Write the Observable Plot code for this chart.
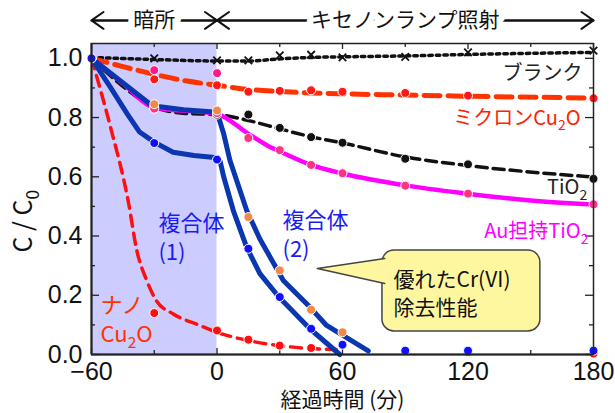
<!DOCTYPE html>
<html><head><meta charset="utf-8">
<script src="https://cdn.jsdelivr.net/npm/d3@7"></script>
<script src="https://cdn.jsdelivr.net/npm/@observablehq/plot@0.6"></script>
<style>body{margin:0;background:#fff;}</style>
</head><body><div id="chart"></div>
<script>
// ---- ticks ----
const xTicks = [-60, 0, 60, 120, 180];
const xMinorTicks = [-30, 30, 90, 150];
const yTicks = [0, 0.2, 0.4, 0.6, 0.8, 1.0];
const yMinorTicks = [0.1, 0.3, 0.5, 0.7, 0.9];

// ---- periods (top arrows / dark shading) ----
const periods = [
  {label: "暗所", start: -60, end: 0, mid: -30},
  {label: "キセノンランプ照射", start: 0, end: 180, mid: 90}
];
const periodRowY = 1.128;

// ---- measured points [time (min), C/C0] ----
const blankPts   = [[-30,1.0],[0,0.993],[15,0.993],[30,1.01],[45,1.012],[60,1.003],[90,1.005],[120,1.02],[180,1.026]];
const micronPts  = [[-60,1.0],[-30,0.929],[0,0.909],[15,0.887],[30,0.89],[45,0.892],[60,0.887],[90,0.883],[120,0.874],[180,0.865]];
const extraPinkPts = [[-30,0.96],[0,0.95]];
const tio2Pts    = [[-60,1.0],[-30,0.835],[0,0.81],[15,0.81],[30,0.765],[45,0.734],[60,0.715],[90,0.661],[120,0.642],[180,0.593]];
const auPts      = [[-60,1.0],[-30,0.83],[0,0.815],[15,0.731],[30,0.69],[45,0.64],[60,0.612],[90,0.57],[120,0.543],[180,0.507]];
const comp2Pts   = [[-60,1.0],[-30,0.845],[0,0.824],[15,0.464],[30,0.284],[45,0.151],[60,0.075]];
const nanoPts    = [[-60,1.0],[-30,0.14],[0,0.081],[15,0.05],[30,0.03],[45,0.022],[120,0.008],[180,0.003]];
const comp1Pts   = [[-60,1.0],[-30,0.714],[0,0.658],[15,0.357],[30,0.194],[45,0.087],[60,0.033],[90,0.013],[120,0.013],[180,0.013]];

// ---- trend curves [time (min), C/C0] ----
const blankFit  = [[-60,1.003],[-30,0.996],[0,0.991],[15,0.991],[30,0.998],[45,1.003],[60,1.005],[90,1.008],[120,1.013],[180,1.02]];
const micronFit = [[-60,1.0],[-45,0.972],[-30,0.946],[-15,0.924],[0,0.909],[15,0.895],[30,0.888],[60,0.88],[90,0.876],[120,0.872],[180,0.866]];
const tio2Fit   = [[-60,1.0],[-50,0.935],[-40,0.878],[-30,0.835],[-15,0.814],[0,0.81],[15,0.79],[30,0.762],[45,0.735],[60,0.714],[90,0.667],[120,0.638],[180,0.599]];
const auFit     = [[-60,1.0],[-45,0.915],[-30,0.834],[0,0.812],[15,0.745],[24,0.706],[30,0.686],[45,0.64],[60,0.611],[90,0.571],[120,0.543],[150,0.52],[180,0.506]];
const comp2Fit  = [[-60,1.0],[-31,0.84],[-16,0.826],[0,0.818],[3.2,0.745],[6.2,0.655],[14.2,0.486],[20.5,0.39],[31.7,0.25],[44.4,0.16],[52.4,0.098],[72.3,0.012]];
const comp1Fit  = [[-60,1.0],[-51,0.903],[-43,0.813],[-37,0.751],[-30,0.717],[-21,0.683],[-11,0.672],[0,0.664],[1.5,0.652],[3.2,0.6],[7.8,0.486],[14.2,0.362],[20.5,0.273],[29.6,0.194],[44.4,0.087],[58.7,0.0]];
const nanoFit   = [[-60,1.0],[-51,0.77],[-42.5,0.52],[-38.3,0.35],[-33.6,0.25],[-28.8,0.18],[-20.9,0.137],[-8.1,0.098],[0,0.075],[15,0.047],[30,0.03],[45,0.02],[57,0.017]];

// ---- labels ----
const rightLabels = [
  {text: "ブランク",        t: 174.7, c: 0.949, color: "#222222"},
  {text: "ミクロンCu_2O",   t: 173.8, c: 0.797, color: "#ff2200"},
  {text: "TiO_2",           t: 177.0, c: 0.562, color: "#222222"},
  {text: "Au担持TiO_2",     t: 177.6, c: 0.415, color: "#ff00ff"}
];
const leftLabels = [
  {text: "複合体\n(1)",     t: -28.0, c: 0.398, color: "#1c1cf0"},
  {text: "複合体\n(2)",     t: 31.3,  c: 0.410, color: "#1c1cf0"},
  {text: "ナノ\nCu_2O",     t: -55.7, c: 0.123, color: "#ff3300"}
];
const yAxisTitle = {text: "C\u00a0/\u00a0C_0", t: -60, c: 0.45};
const callout = {x1: 79.1, x2: 154.6, y1: 0.078, y2: 0.351, text: "優れたCr(VI)\n除去性能", tx: 84.4, ty: 0.21};
const calloutPointer = [[80.2,0.324],[48.0,0.290],[80.2,0.240]];

const rows = a => a.map(([t, c]) => ({t, c}));
const FONT = "'Liberation Sans', Arial, 'Noto Sans CJK JP', sans-serif";
const JFONT = "'Noto Sans CJK JP', 'Liberation Sans', sans-serif";
const plotW = 615 - 91 - 22, plotH = 413 - 43 - 59;

const dotStyle = (fill) => ({x: "t", y: "c", r: 4.5, fill, stroke: "white", strokeWidth: 1});

const chart = Plot.plot({
  width: 615, height: 413,
  marginLeft: 91, marginRight: 22, marginTop: 43, marginBottom: 59,
  x: {domain: [-60, 180]},
  y: {domain: [0, 1.05]},
  style: {fontFamily: FONT, background: "white", overflow: "visible"},
  marks: [
    Plot.rect([periods[0]], {x1: "start", x2: "end", fill: "#ccccff"}),
    // inward ticks
    Plot.tickY(yTicks, {y: d => d, insetRight: plotW - 8, stroke: "#222", strokeWidth: 1.3}),
    Plot.tickY(yMinorTicks, {y: d => d, insetRight: plotW - 4, stroke: "#222", strokeWidth: 1.3}),
    Plot.tickY(yTicks, {y: d => d, insetLeft: plotW - 8, stroke: "#222", strokeWidth: 1.3}),
    Plot.tickY(yMinorTicks, {y: d => d, insetLeft: plotW - 4, stroke: "#222", strokeWidth: 1.3}),
    Plot.tickX(xTicks, {x: d => d, insetTop: plotH - 6, stroke: "#222", strokeWidth: 1.3}),
    Plot.tickX(xMinorTicks, {x: d => d, insetTop: plotH - 4, stroke: "#222", strokeWidth: 1.3}),
    Plot.tickX(xTicks, {x: d => d, insetBottom: plotH - 6, stroke: "#222", strokeWidth: 1.3}),
    Plot.tickX(xMinorTicks, {x: d => d, insetBottom: plotH - 4, stroke: "#222", strokeWidth: 1.3}),
    // trend curves
    Plot.line(rows(blankFit),  {x: "t", y: "c", stroke: "#111", strokeWidth: 3.5, strokeDasharray: "3.5,4", curve: "monotone-x"}),
    Plot.line(rows(micronFit), {x: "t", y: "c", stroke: "#ff3300", strokeWidth: 5, strokeDasharray: "16,8", curve: "monotone-x"}),
    Plot.line(rows(tio2Fit),   {x: "t", y: "c", stroke: "#111", strokeWidth: 3.5, strokeDasharray: "11,6", curve: "monotone-x"}),
    Plot.line(rows(auFit),     {x: "t", y: "c", stroke: "#ff00ff", strokeWidth: 4.5, curve: "monotone-x"}),
    Plot.line(rows(nanoFit),   {x: "t", y: "c", stroke: "#ff1010", strokeWidth: 3.5, strokeDasharray: "11,7", curve: "monotone-x"}),
    Plot.line(rows(comp2Fit),  {x: "t", y: "c", stroke: "#0a36b0", strokeWidth: 5, curve: "linear", strokeLinejoin: "round"}),
    Plot.line(rows(comp1Fit),  {x: "t", y: "c", stroke: "#0a36b0", strokeWidth: 5, curve: "linear", strokeLinejoin: "round"}),
    // measured points
    Plot.dot(rows(blankPts), {x: "t", y: "c", symbol: "times", r: 3.5, stroke: "#111", strokeWidth: 1.8}),
    Plot.dot(rows(extraPinkPts), dotStyle("#ff1a8c")),
    Plot.dot(rows(micronPts), dotStyle("#ff1a1a")),
    Plot.dot(rows(tio2Pts), dotStyle("#111")),
    Plot.dot(rows(auPts), dotStyle("#ff3385")),
    Plot.dot(rows(comp2Pts), dotStyle("#f08848")),
    Plot.dot(rows(nanoPts), dotStyle("#ff1010")),
    Plot.dot(rows(comp1Pts), dotStyle("#1010ff")),
    // frame & axes
    Plot.frame({stroke: "#222", strokeWidth: 1.5}),
    Plot.ruleY([0], {stroke: "#222", strokeWidth: 2}),
    Plot.ruleX([-60], {stroke: "#222", strokeWidth: 2}),
    Plot.axisX({ticks: xTicks, tickSize: 0, tickPadding: 8, fontSize: 25, label: null, fill: "#111"}),
    Plot.axisY({ticks: yTicks, tickSize: 0, tickPadding: 9, fontSize: 25, label: null, tickFormat: d3.format(".1f"), fill: "#111"}),
    Plot.text(["経過時間 (分)"], {frameAnchor: "bottom", dy: 52, fontSize: 21, fontFamily: JFONT, fill: "#111"}),
    Plot.text([yAxisTitle], {x: "t", y: "c", text: "text", dx: -68, rotate: -90, fontSize: 25, fontFamily: JFONT, fill: "#111"}),
    // period arrows
    Plot.arrow(periods, {x1: "start", x2: "end", y1: periodRowY, y2: periodRowY, stroke: "#111", strokeWidth: 2, headLength: 11, headAngle: 70}),
    Plot.arrow(periods, {x1: "end", x2: "start", y1: periodRowY, y2: periodRowY, stroke: "#111", strokeWidth: 2, headLength: 11, headAngle: 70}),
    Plot.text(periods, {x: "mid", y: periodRowY, text: "label", fontSize: 21, fontFamily: JFONT, fill: "#111", stroke: "white", strokeWidth: 13, strokeLinejoin: "round", paintOrder: "stroke"}),
    // series labels
    Plot.text(rightLabels, {x: "t", y: "c", text: "text", fill: "color", textAnchor: "end", fontSize: 20, fontFamily: JFONT}),
    Plot.text(leftLabels, {x: "t", y: "c", text: "text", fill: "color", textAnchor: "start", fontSize: 22, fontFamily: JFONT, lineHeight: 1.3}),
    // callout
    Plot.rect([callout], {x1: "x1", x2: "x2", y1: "y1", y2: "y2", fill: "#fff7a0", stroke: "#444", strokeWidth: 1.5, rx: 12}),
    Plot.line(rows(calloutPointer), {x: "t", y: "c", fill: "#fff7a0", stroke: "#444", strokeWidth: 1.5, curve: "linear"}),
    Plot.text([callout], {x: "tx", y: "ty", text: "text", textAnchor: "start", fontSize: 21, fontFamily: JFONT, fill: "#111", lineHeight: 1.3})
  ]
});

// markup: "_2" -> subscript, "*x*" -> italic
function richText(root) {
  const ns = "http://www.w3.org/2000/svg";
  root.querySelectorAll("text, tspan").forEach(el => {
    if (el.querySelector("tspan")) return;
    const t = el.textContent;
    if (!/_\d|\*/.test(t)) return;
    el.textContent = "";
    let pending = null;
    t.split(/(_\d|\*[^*]+\*)/).forEach(part => {
      if (!part) return;
      const ts = document.createElementNS(ns, "tspan");
      if (part[0] === "_") {
        ts.textContent = part.slice(1);
        ts.setAttribute("font-size", "70%");
        ts.setAttribute("dy", "0.4em");
        pending = "-0.28em";
      } else {
        ts.textContent = part[0] === "*" ? part.slice(1, -1) : part;
        if (part[0] === "*") ts.setAttribute("font-style", "italic");
        if (pending) { ts.setAttribute("dy", pending); pending = null; }
      }
      el.appendChild(ts);
    });
  });
}
richText(chart);
document.getElementById("chart").appendChild(chart);
</script>
</body></html>
